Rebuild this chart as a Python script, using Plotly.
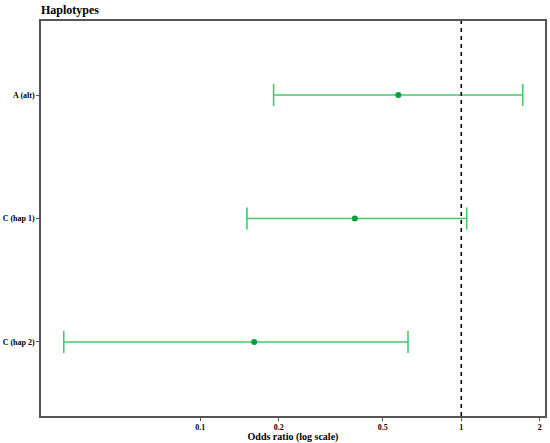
import plotly.graph_objects as go

categories = ["A (alt)", "C (hap 1)", "C (hap 2)"]
odds_ratio = [0.574, 0.391, 0.161]
ci_lower = [0.191, 0.151, 0.030]
ci_upper = [1.72, 1.049, 0.625]
x_ticks = [0.1, 0.2, 0.5, 1, 2]
x_tick_labels = ["0.1", "0.2", "0.5", "1", "2"]

font_family = "Liberation Serif"

fig = go.Figure()
fig.add_trace(go.Scatter(
    x=odds_ratio,
    y=categories,
    mode="markers",
    marker=dict(color="#00a03c", size=6),
    error_x=dict(
        type="data",
        symmetric=False,
        array=[u - o for u, o in zip(ci_upper, odds_ratio)],
        arrayminus=[o - l for o, l in zip(odds_ratio, ci_lower)],
        color="#46c86e",
        thickness=1.6,
        width=11,
    ),
    showlegend=False,
))

fig.add_shape(type="line", xref="x", yref="paper", x0=1, x1=1, y0=0, y1=1,
              line=dict(color="black", width=1.6, dash="4px,4px"))

fig.update_layout(
    width=550, height=443,
    margin=dict(l=41, r=5, t=21, b=27, autoexpand=False),
    plot_bgcolor="white", paper_bgcolor="white",
    font=dict(family=font_family, color="black"),
    title=dict(text="<b>Haplotypes</b>", xref="paper", x=0, xanchor="left",
               yref="container", y=1 - 10/443, yanchor="middle", pad=dict(l=0, r=0, t=0, b=0),
               font=dict(size=12, family=font_family, color="black")),
)
fig.update_xaxes(
    type="log", range=[-1.610, 0.3207], automargin=False,
    tickvals=x_ticks, ticktext=["<b>%s</b>" % t for t in x_tick_labels],
    tickfont=dict(size=8, family=font_family, color="black"),
    ticks="outside", ticklen=3, tickcolor="#555",
    showgrid=False, zeroline=False,
    showline=True, linecolor="#555", linewidth=1.5, mirror=True,
    title=dict(text="<b>Odds ratio (log scale)</b>", font=dict(size=10, family=font_family, color="black"), standoff=1),
)
fig.update_yaxes(
    categoryorder="array", categoryarray=categories, automargin=False,
    range=[2.6, -0.6],
    tickfont=dict(size=8, family=font_family, color="black"),
    tickvals=categories, ticktext=["<b>%s</b>" % c for c in categories],
    ticks="outside", ticklen=3, tickcolor="#555",
    showgrid=False, zeroline=False,
    showline=True, linecolor="#555", linewidth=1.5, mirror=True,
)

fig.write_html("out.html", config={"displayModeBar": False},
               post_script="document.body.style.margin='0';document.body.style.overflow='hidden';")
